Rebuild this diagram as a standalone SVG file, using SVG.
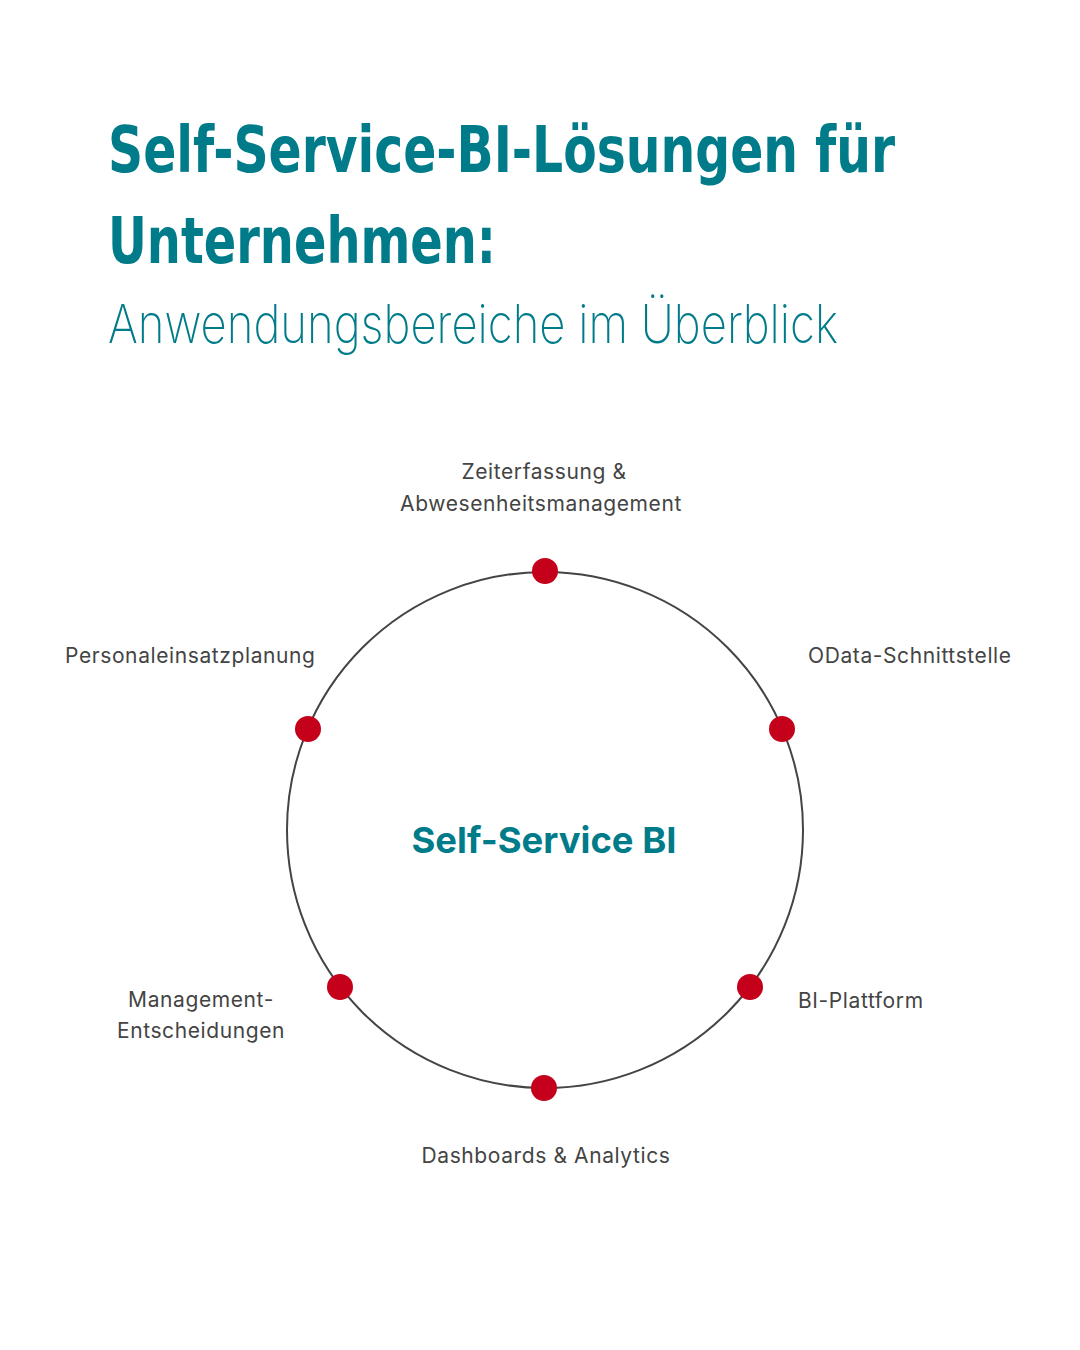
<svg xmlns="http://www.w3.org/2000/svg" width="1080" height="1350" viewBox="0 0 1080 1350">
<style>
.title{font-family:"DejaVu Sans Condensed","DejaVu Sans",sans-serif;font-weight:bold;font-size:64px;fill:#007B8A}
.sub{font-family:Inter,"Noto Sans",sans-serif;font-weight:200;font-size:54px;fill:#007B8A}
.lbl{font-family:Inter,"Noto Sans",sans-serif;font-size:21px;letter-spacing:0.6px;fill:#444444}
.center{font-family:Inter,"Noto Sans",sans-serif;font-weight:bold;font-size:36px;fill:#007B8A}
.dot{fill:#C4001A}
.ring{fill:none;stroke:#444444;stroke-width:2}
</style>
<rect width="1080" height="1350" fill="#FFFFFF"/>
<g id="title">
<text class="title" x="108" y="172" textLength="787" lengthAdjust="spacingAndGlyphs">Self-Service-BI-Lösungen für</text>
<text class="title" x="108" y="263" textLength="388" lengthAdjust="spacingAndGlyphs">Unternehmen:</text>
<text class="sub" x="108" y="343" textLength="730" lengthAdjust="spacingAndGlyphs">Anwendungsbereiche im Überblick</text>
</g>
<g id="connectors">
<circle class="ring" cx="545" cy="830" r="258"/>
</g>
<g id="center">
<text class="center" x="544" y="853" text-anchor="middle" textLength="265" lengthAdjust="spacingAndGlyphs">Self-Service BI</text>
</g>
<g id="node-zeiterfassung">
<circle class="dot" cx="545" cy="571" r="13"/>
<text class="lbl" x="544" y="479" text-anchor="middle">Zeiterfassung &amp;</text>
<text class="lbl" x="541" y="511" text-anchor="middle">Abwesenheitsmanagement</text>
</g>
<g id="node-odata">
<circle class="dot" cx="782" cy="729" r="13"/>
<text class="lbl" x="808" y="663">OData-Schnittstelle</text>
</g>
<g id="node-bi-plattform">
<circle class="dot" cx="750" cy="987" r="13"/>
<text class="lbl" x="798" y="1008">BI-Plattform</text>
</g>
<g id="node-dashboards">
<circle class="dot" cx="544" cy="1088" r="13"/>
<text class="lbl" x="546" y="1163" text-anchor="middle">Dashboards &amp; Analytics</text>
</g>
<g id="node-management">
<circle class="dot" cx="340" cy="987" r="13"/>
<text class="lbl" x="201" y="1007" text-anchor="middle">Management-</text>
<text class="lbl" x="201" y="1038" text-anchor="middle">Entscheidungen</text>
</g>
<g id="node-personal">
<circle class="dot" cx="308" cy="729" r="13"/>
<text class="lbl" x="65" y="663">Personaleinsatzplanung</text>
</g>
</svg>
